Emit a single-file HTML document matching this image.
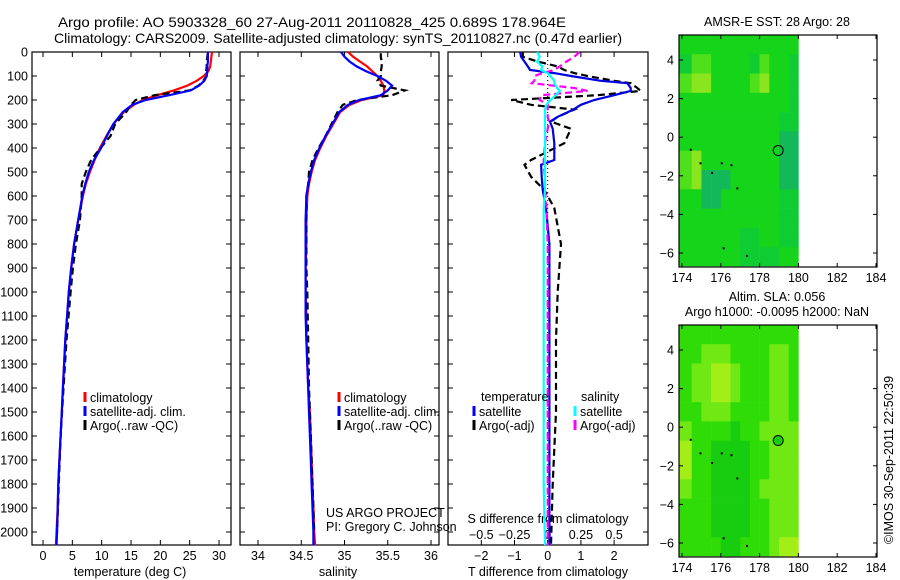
<!DOCTYPE html>
<html><head><meta charset="utf-8"><style>
html,body{margin:0;padding:0;background:#fff;}
svg{display:block;font-family:"Liberation Sans",sans-serif;}
text{font-size:12.5px;fill:#000;}
</style></head><body>
<svg id="fig" width="900" height="580" viewBox="0 0 900 580">
<text x="58" y="27" textLength="508" lengthAdjust="spacingAndGlyphs" style="font-size:14px">Argo profile: AO 5903328_60 27-Aug-2011 20110828_425 0.689S 178.964E</text>
<text x="54" y="43" textLength="568" lengthAdjust="spacingAndGlyphs" style="font-size:14px">Climatology: CARS2009. Satellite-adjusted climatology: synTS_20110827.nc (0.47d earlier)</text>
<g id="g"></g>
</svg>
<script>
// depth grid (m)
const depthClim = [0,20,40,60,80,100,120,140,160,180,200,220,250,300,350,400,450,500,550,600,700,800,900,1000,1100,1200,1300,1400,1500,1600,1700,1800,1900,2000,2055];
const tempClim  = [28.8,28.7,28.6,28.5,28.2,27.4,26.2,24.6,22.3,19.5,17.0,15.5,13.8,12.0,10.8,9.7,8.8,8.0,7.3,6.8,6.0,5.3,4.8,4.4,4.1,3.8,3.6,3.4,3.2,3.0,2.8,2.6,2.5,2.3,2.2];
const tempSat   = [28.1,28.1,28.1,28.0,28.0,27.9,27.5,26.6,25.2,21.5,17.5,15.2,13.6,12.0,10.9,9.9,8.7,7.8,7.2,6.7,6.0,5.3,4.8,4.4,4.1,3.8,3.6,3.4,3.2,3.0,2.8,2.6,2.5,2.4,2.3];
const depthArgo = [5,20,40,60,80,100,120,140,160,180,200,220,250,300,350,400,450,500,550,600,700,800,900,1000,1200,1400,1600,1800,2000];
const tempArgo  = [28.1,28.0,27.9,27.9,27.8,27.9,27.3,26.5,25.0,19.0,15.8,15.0,14.2,12.3,11.5,9.8,8.2,7.3,6.6,6.6,6.3,5.6,5.1,4.7,4.0,3.5,3.0,2.7,2.4];
const salClim   = [35.04,35.10,35.18,35.26,35.32,35.38,35.42,35.45,35.46,35.45,35.20,35.06,34.95,34.87,34.79,34.72,34.66,34.62,34.59,34.57,34.56,34.56,34.55,34.55,34.56,34.56,34.57,34.58,34.60,34.61,34.62,34.63,34.64,34.65,34.66];
const salSat    = [34.96,35.00,35.06,35.14,35.25,35.38,35.48,35.55,35.50,35.42,35.17,35.04,34.94,34.86,34.78,34.71,34.65,34.61,34.58,34.56,34.55,34.55,34.55,34.55,34.55,34.56,34.57,34.58,34.59,34.60,34.61,34.62,34.63,34.64,34.64];
const salArgo   = [35.42,35.42,35.43,35.43,35.42,35.42,35.38,35.42,35.70,35.55,35.15,34.98,34.92,34.85,34.78,34.70,34.63,34.59,34.58,34.56,34.56,34.56,34.56,34.57,34.58,34.59,34.61,34.63,34.65];
// differences
const depthDiff = [0,20,40,60,75,88,100,120,130,150,162,180,200,220,240,270,290,320,380,450,470,520,575,650,800,1000,1200,1500,1800,2055];
const tDiffSat  = [-0.83,-0.8,-0.7,-0.6,-0.53,0.2,0.7,1.6,2.4,2.5,2.5,2.0,1.4,1.0,0.77,0.3,0.07,0.15,0.2,0.2,-0.2,-0.18,-0.15,-0.05,0.05,0.05,0.05,0.05,0.05,0.05];
const tDiffArgo = [-0.75,-0.75,-0.3,0.3,0.5,0.8,1.2,2.0,2.5,2.7,2.8,1.5,-1.1,-0.5,0.8,0.3,0.1,0.7,0.5,-0.5,-0.7,-0.5,-0.1,0.2,0.4,0.3,0.25,0.25,0.15,0.1];
const sDiffSat  = [-0.08,-0.06,-0.08,-0.04,-0.05,0.0,0.02,0.05,0.05,0.07,0.09,0.06,0.02,-0.01,-0.02,-0.02,-0.02,-0.02,-0.02,-0.02,-0.02,-0.02,-0.02,-0.03,-0.03,-0.03,-0.03,-0.03,-0.03,-0.02];
const sDiffArgo = [0.24,0.2,0.14,0.09,0.05,-0.04,-0.1,-0.1,-0.12,0.2,0.3,-0.05,-0.06,0.0,0.0,0.0,0.01,0.0,-0.02,-0.03,-0.03,-0.02,-0.02,-0.01,0.0,0.0,0.0,0.0,0.0,0.0];
const depthTicks = [0,100,200,300,400,500,600,700,800,900,1000,1100,1200,1300,1400,1500,1600,1700,1800,1900,2000];
const tempTicks = [0,5,10,15,20,25,30];
const salTicks = [34,34.5,35,35.5,36];
const salTickLabels = ["34","34.5","35","35.5","36"];
const tdTicks = [-2,-1,0,1,2];
const sdTicks = [-0.5,-0.25,0,0.25,0.5];
const sdTickLabels = ["\u22120.5","\u22120.25","0","0.25","0.5"];
const lonTicks = [174,176,178,180,182,184];
const latTicks = [4,2,0,-2,-4,-6];
// map grids: rows = lat 5.3..-7 (1 deg), cols = lon 174..180 split into 0.5 deg
const sstGrid = ["BBBBBBBBBBBB","ACCBBBBACBBA","CDDBBBBCDBBA","BBBBBBBBBBBA","BBBBBBBBBBAA","BBBBBBBBBBEE","CDBBBBBBBBEE","CDEEEBBBBBEE","BBEEBBBBBBAA","BBBBBBBBBBAA","BBBBBBAABBAA","BBBBBBAAAABB","BBEEBBBBBBBB"];
const slaGrid = ["BBBBBBBBBBBB","BBCCCBBBBCCB","BCCDDCBBBCCB","BCCDDCBBBCCB","BBCCCBBBBCCB","CBBBBABBCCCC","DBBAAAABBCCC","DBBAAAABBCCC","CBBAAAABCCCC","BBBAAAABBCCC","BBBAAAABBCCC","BBBBAABBBCDD","BBBBBBBBBCDD"];
const sstColors = {A:"#0fcc33",B:"#15d41a",C:"#4ee01a",D:"#8ae41e",E:"#13b85a"};
const slaColors = {A:"#18cc10",B:"#30dc08",C:"#70e814",D:"#a4ee18"};

const NS="http://www.w3.org/2000/svg";
const G=document.getElementById('g');
function mk(tag,attrs,parent){const e=document.createElementNS(NS,tag);for(const k in attrs)e.setAttribute(k,attrs[k]);(parent||G).appendChild(e);return e;}
function lin(d0,d1,r0,r1){return v=>r0+(v-d0)*(r1-r0)/(d1-d0);}
const Y=lin(0,2000,52,532);

function panel(x0,x1,name){
  const r=mk('rect',{x:x0,y:52,width:x1-x0,height:493,fill:'none',stroke:'#000','stroke-width':1.2});
  
  
  depthTicks.forEach(d=>{mk('line',{x1:x0,x2:x0+5,y1:Y(d),y2:Y(d),stroke:'#000'});mk('line',{x1:x1-5,x2:x1,y1:Y(d),y2:Y(d),stroke:'#000'});});
}
function line(xs,ys,X,color,dash,name){
  const pts=xs.map((v,i)=>X(v).toFixed(1)+','+Y(ys[i]).toFixed(1)).join(' ');
  const p=mk('polyline',{points:pts,fill:'none',stroke:color,'stroke-width':2.2});
  if(dash)p.setAttribute('stroke-dasharray',dash);
  
  
}
function txt(x,y,s,anchor,name,size){const t=mk('text',{x:x,y:y,'text-anchor':anchor||'start'});t.textContent=s;if(size)t.style.fontSize=size+'px';return t;}
function legend(x,y,color,label,name){mk('line',{x1:x,x2:x,y1:y-10,y2:y,stroke:color,'stroke-width':3});txt(x+5,y,label,'start',name);}

depthTicks.forEach(d=>txt(28,Y(d)+4.5,String(d),'end','depth-tick-label'));

// panel 1
const XT=lin(0,30,43,219);
panel(32,231,'temperature-panel');
tempTicks.forEach(t=>{mk('line',{x1:XT(t),x2:XT(t),y1:545,y2:540,stroke:'#000'});mk('line',{x1:XT(t),x2:XT(t),y1:52,y2:57,stroke:'#000'});txt(XT(t),560,String(t),'middle','temperature-tick-label');});
txt(130,576,'temperature (deg C)','middle','temperature-axis-title');
line(tempClim,depthClim,XT,'#f00',null,'temperature-climatology-line');
line(tempArgo,depthArgo,XT,'#000','7,4','temperature-argo-line');
line(tempSat,depthClim,XT,'#00f',null,'temperature-satellite-line');
legend(85,402,'#f00','climatology','legend-climatology');
legend(85,416,'#00f','satellite-adj. clim.','legend-satellite');
legend(85,430,'#000','Argo(..raw -QC)','legend-argo');

// panel 2
const XS=lin(34,36,258,431);
panel(240,439,'salinity-panel');
salTicks.forEach((t,i)=>{mk('line',{x1:XS(t),x2:XS(t),y1:545,y2:540,stroke:'#000'});mk('line',{x1:XS(t),x2:XS(t),y1:52,y2:57,stroke:'#000'});txt(XS(t),560,salTickLabels[i],'middle','salinity-tick-label');});
txt(338,576,'salinity','middle','salinity-axis-title');
line(salClim,depthClim,XS,'#f00',null,'salinity-climatology-line');
line(salArgo,depthArgo,XS,'#000','7,4','salinity-argo-line');
line(salSat,depthClim,XS,'#00f',null,'salinity-satellite-line');
legend(339,402,'#f00','climatology','legend-climatology-2');
legend(339,416,'#00f','satellite-adj. clim.','legend-satellite-2');
legend(339,430,'#000','Argo(..raw -QC)','legend-argo-2');
txt(326,517,'US ARGO PROJECT','start','project-credit');
txt(326,531,'PI: Gregory C. Johnson','start','pi-credit');

// panel 3
const XD=lin(0,1,547.7,580.9);
const XSD=lin(0,0.25,547.7,580.9);
panel(448,648,'difference-panel');
mk('line',{x1:XD(0),x2:XD(0),y1:52,y2:545,stroke:'#000','stroke-dasharray':'1,3'});
tdTicks.forEach(t=>{mk('line',{x1:XD(t),x2:XD(t),y1:545,y2:540,stroke:'#000'});mk('line',{x1:XD(t),x2:XD(t),y1:52,y2:57,stroke:'#000'});txt(XD(t),560,t<0?'\u2212'+Math.abs(t):String(t),'middle','t-diff-tick-label');});
sdTicks.forEach((t,i)=>txt(XSD(t),539,sdTickLabels[i],'middle','s-diff-tick-label'));
txt(548,523,'S difference from climatology','middle','s-diff-axis-title');
txt(548,576,'T difference from climatology','middle','t-diff-axis-title');
line(tDiffArgo,depthDiff,XD,'#000','7,4','t-diff-argo-line');
line(tDiffSat,depthDiff,XD,'#0000e0',null,'t-diff-satellite-line');
line(sDiffArgo,depthDiff,XSD,'#f0f','7,4','s-diff-argo-line');
line(sDiffSat,depthDiff,XSD,'#0ff',null,'s-diff-satellite-line');
txt(481,401,'temperature','start','legend-temperature-heading');
legend(474,416,'#00f','satellite','legend-t-satellite');
legend(474,430,'#000','Argo(-adj)','legend-t-argo');
txt(581,401,'salinity','start','legend-salinity-heading');
legend(575,416,'#0ff','satellite','legend-s-satellite');
legend(575,430,'#f0f','Argo(-adj)','legend-s-argo');

// maps
function map(top,grid,colors,name,circleFill){
  const LX=lin(174,184,682,876), LY=lin(4,-6,top+25,top+218);
  const bottom=top+232;
  grid.forEach((row,ri)=>{for(let ci=0;ci<row.length;ci++){
    const lon0=174+ci*0.5, lat0=5.3-ri;
    const x=Math.max(679,LX(lon0-(ci===0?0.2:0))), xe=LX(lon0+0.5);
    const y=LY(lat0), ye=Math.min(bottom-1,LY(lat0-1));
    mk('rect',{x:x.toFixed(1),y:y.toFixed(1),width:(xe-x+0.3).toFixed(1),height:(ye-y+0.3).toFixed(1),fill:colors[row[ci]]});
  }});
  const f=mk('rect',{x:679,y:top,width:198,height:232,fill:'none',stroke:'#000','stroke-width':1.2});
  
  
  lonTicks.forEach(l=>{mk('line',{x1:LX(l),x2:LX(l),y1:bottom,y2:bottom-4,stroke:'#000'});mk('line',{x1:LX(l),x2:LX(l),y1:top,y2:top+4,stroke:'#000'});txt(LX(l),bottom+15,String(l),'middle',name+'-lon-label');});
  latTicks.forEach(l=>{mk('line',{x1:679,x2:683,y1:LY(l),y2:LY(l),stroke:'#000'});mk('line',{x1:873,x2:877,y1:LY(l),y2:LY(l),stroke:'#000'});txt(674,LY(l)+4.5,l<0?'\u2212'+Math.abs(l):String(l),'end',name+'-lat-label');});
  [[174.4,-0.6],[174.9,-1.3],[175.5,-1.8],[176,-1.3],[176.5,-1.4],[176.8,-2.6],[176.1,-5.7],[177.3,-6.1]].forEach(p=>mk('rect',{x:LX(p[0]),y:LY(p[1]),width:2,height:2,fill:'#000'}));
  const c=mk('circle',{cx:LX(178.96),cy:LY(-0.69),r:5,fill:circleFill,stroke:'#000'});
  
  
}
map(35,sstGrid,sstColors,'sst-map','none');
map(325,slaGrid,slaColors,'sla-map','#18cc10');
txt(777,26,'AMSR-E SST: 28 Argo: 28','middle','sst-map-title');
txt(777,301,'Altim. SLA: 0.056','middle','sla-map-title');
txt(777,316,'Argo h1000: -0.0095 h2000: NaN','middle','sla-map-subtitle');
const r=txt(0,0,'\u00a9IMOS 30-Sep-2011 22:50:39','middle','timestamp-credit');
r.setAttribute('transform','translate(893,460) rotate(-90)');
</script>
</body></html>
